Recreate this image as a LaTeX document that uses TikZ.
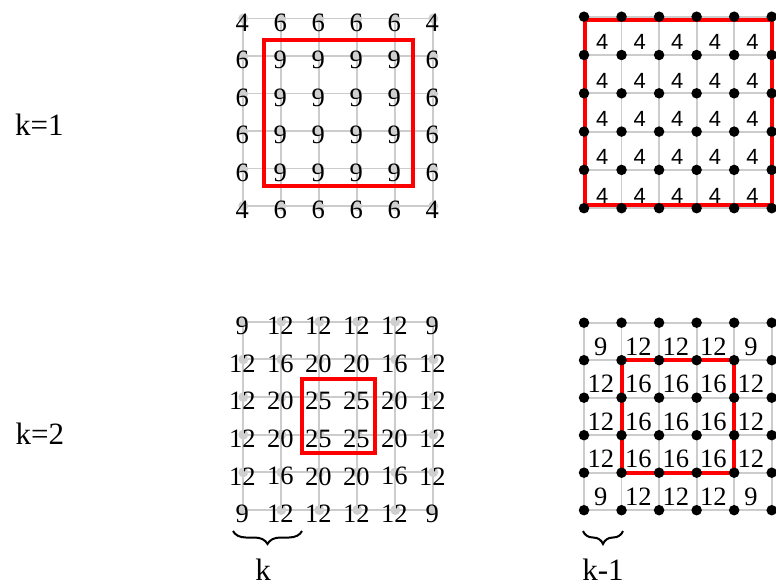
\documentclass[tikz,border=0pt]{standalone}
\usepackage{fontspec}
\setmainfont{Liberation Serif}
\newfontfamily\sansnum{Liberation Sans}
\usetikzlibrary{decorations.pathreplacing}
\begin{document}
\begin{tikzpicture}[x=1pt,y=-1pt,
  gridline/.style={draw=black!20, line width=1.8pt},
  graydot/.style={circle, fill=black!19, inner sep=0pt, minimum size=10pt},
  blackdot/.style={circle, fill=black, inner sep=0pt, minimum size=10.5pt},
  num/.style={inner sep=0pt, font=\fontsize{26.5}{26.5}\selectfont},
  snum/.style={inner sep=0pt, font=\sansnum\fontsize{22}{22}\selectfont},
  redbox/.style={draw=red, line width=4pt},
  lab/.style={inner sep=0pt, font=\fontsize{31}{31}\selectfont},
  bracestyle/.style={decorate, decoration={brace, amplitude=13pt}, line width=2pt}]
\useasboundingbox (0,0) rectangle (776,586);

% ---------- vertex coordinates ----------
\foreach \i in {0,...,5}{
  \foreach \j in {0,...,5}{
    \coordinate (TL-\i-\j) at ({243.3+38*\i},{18.5+37.5*\j});
    \coordinate (BL-\i-\j) at ({243.3+38*\i},{321.7+37.66*\j});
    \coordinate (TR-\i-\j) at ({584+37.54*\i},{16.7+38.3*\j});
    \coordinate (BR-\i-\j) at ({584+37.54*\i},{322.7+37.5*\j});
  }
}

% ---------- grid lines ----------
\foreach \g in {TL,BL,TR,BR}{
  \foreach \i in {0,...,5}{
    \draw[gridline] (\g-\i-0) -- (\g-\i-5);
    \draw[gridline] (\g-0-\i) -- (\g-5-\i);
  }
}

% ---------- red boxes ----------
\draw[redbox] (264,40) rectangle (412.5,186);
\draw[redbox] (301.7,379.3) rectangle (375,452.7);
\draw[redbox] (585,20) rectangle (771.7,205);
\draw[redbox] (BR-1-1) rectangle (BR-4-4);

% ---------- dots ----------
\foreach \i in {0,...,5}{
  \foreach \j in {0,...,5}{
    \node[graydot] (TLd-\i-\j) at (TL-\i-\j) {};
    \node[graydot] (BLd-\i-\j) at (BL-\i-\j) {};
    \node[blackdot] (TRd-\i-\j) at (TR-\i-\j) {};
    \node[blackdot] (BRd-\i-\j) at (BR-\i-\j) {};
  }
}

% ---------- numbers: top-left ----------
\foreach [count=\j from 0] \r in {{4,6,6,6,6,4},{6,9,9,9,9,6},{6,9,9,9,9,6},{6,9,9,9,9,6},{6,9,9,9,9,6},{4,6,6,6,6,4}}{
  \foreach [count=\i from 0] \v in \r {
    \node[num] (TLn-\i-\j) at ({242.3+38*\i},{22.5+37.5*\j}) {\v};
  }
}
% ---------- numbers: bottom-left ----------
\foreach [count=\j from 0] \r in {{9,12,12,12,12,9},{12,16,20,20,16,12},{12,20,25,25,20,12},{12,20,25,25,20,12},{12,16,20,20,16,12},{9,12,12,12,12,9}}{
  \foreach [count=\i from 0] \v in \r {
    \node[num] (BLn-\i-\j) at ({242.3+38*\i},{325.7+37.66*\j}) {\v};
  }
}
% ---------- numbers: top-right ----------
\foreach \i in {0,...,4}{
  \foreach \j in {0,...,4}{
    \node[snum] (TRn-\i-\j) at ({584+37.54*\i+18.27},{16.7+38.3*\j+19.15+6.5}) {4};
  }
}
% ---------- numbers: bottom-right ----------
\foreach [count=\j from 0] \r in {{9,12,12,12,9},{12,16,16,16,12},{12,16,16,16,12},{12,16,16,16,12},{9,12,12,12,9}}{
  \foreach [count=\i from 0] \v in \r {
    \node[num] (BRn-\i-\j) at ({584+37.54*\i+18.77-2},{322.7+37.5*\j+18.75+5}) {\v};
  }
}

% ---------- labels ----------
\node[lab, anchor=base west] (k1) at (15,135) {k=1};
\node[lab, anchor=base west] (k2) at (15.5,444) {k=2};

% ---------- braces ----------
\coordinate (b1s) at (302,531);
\coordinate (b1e) at (233,531);
\coordinate (b2s) at (623,531);
\coordinate (b2e) at (583,531);
\draw[bracestyle] (b1s) -- (b1e);
\draw[bracestyle] (b2s) -- (b2e);
\node[lab, anchor=base] (kl) at (263,580.5) {k};
\node[lab, anchor=base] (kml) at (603,580.5) {k-1};
\end{tikzpicture}
\end{document}
